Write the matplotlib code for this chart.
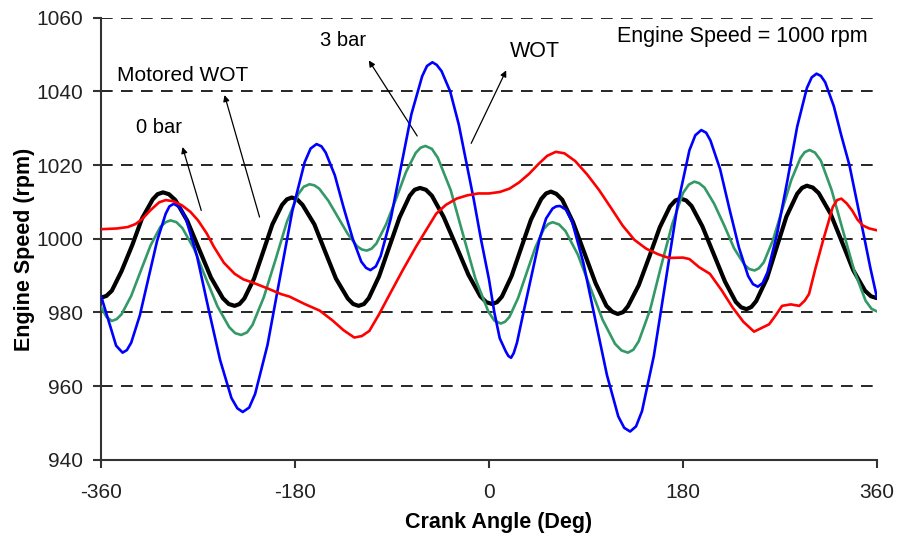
import matplotlib
matplotlib.use("Agg")
from matplotlib import pyplot as plt

plt.rcParams['font.family'] = ['Liberation Sans', 'DejaVu Sans']
plt.rcParams['axes.unicode_minus'] = False

# crank angle (deg) / engine speed (rpm) traces
motored_deg = [-360, -355, -350, -341, -331, -322, -312, -307.5, -302.5, -297, -291, -280, -269, -258,
               -247, -241.5, -236, -231.5, -227, -218, -209.5, -201, -192, -187.5, -183, -178,
               -173, -162, -152, -142, -131, -126, -121, -116, -111.5, -102, -92.5, -83,
               -73.5, -69, -64, -58.5, -53, -42, -30.5, -19, -8, -2.5, 3, 7.5,
               12, 21, 30, 39, 48.5, 53, 57.5, 62.5, 68, 78, 88.5, 99,
               109, 114.5, 119.5, 124.5, 129, 139, 149, 158.5, 168, 173, 178, 183,
               188, 198, 208.5, 219, 229, 234, 239, 243.5, 248, 258, 267, 276,
               286, 290.5, 295, 300.5, 306, 317, 327.5, 338, 349, 354.5, 360]
motored_rpm = [984.0, 984.5, 985.9, 991.2, 998.3, 1005.5, 1010.7, 1012.1, 1012.6, 1012.1, 1010.5, 1004.9, 997.2, 989.5,
               983.9, 982.3, 981.8, 982.3, 983.8, 989.2, 996.5, 1003.9, 1009.2, 1010.7, 1011.2, 1010.7,
               1009.2, 1003.9, 996.5, 989.2, 983.8, 982.3, 981.8, 982.3, 983.9, 989.8, 997.8, 1005.8,
               1011.7, 1013.3, 1013.8, 1013.3, 1011.7, 1005.9, 998.1, 990.2, 984.4, 982.8, 982.3, 982.8,
               984.3, 989.9, 997.6, 1005.2, 1010.8, 1012.3, 1012.8, 1012.2, 1010.6, 1004.5, 996.2, 987.9,
               981.8, 980.2, 979.6, 980.1, 981.7, 987.4, 995.3, 1003.1, 1008.8, 1010.4, 1010.9, 1010.4,
               1008.9, 1003.4, 995.9, 988.4, 982.9, 981.4, 980.9, 981.5, 983.1, 989.3, 997.7, 1006.0,
               1012.2, 1013.8, 1014.4, 1013.9, 1012.4, 1006.8, 999.2, 991.5, 985.9, 984.4, 983.9]

bar3_deg = [-360, -355, -350, -345.5, -341, -332, -323, -314, -305, -300, -295.5, -290, -284.5, -273.5,
            -263, -252, -241, -235.5, -230, -224.5, -219.5, -209, -198, -187.5, -177, -172,
            -166.5, -162, -157.5, -149, -140, -131, -122.5, -118, -113.5, -109, -104.5, -95.5,
            -86, -77, -68, -63.5, -59, -53, -47.5, -35.5, -24, -12.5, -0.5, 5,
            11, 15, 19, 27, 35, 43, 51, 55, 59, 65, 71, 82.5,
            94, 105.5, 117, 123, 129, 134, 139, 149.5, 159.5, 170, 180, 185.5,
            190.5, 195, 200, 209, 218.5, 227.5, 237, 241.5, 246.5, 250.5, 255, 263.5,
            272, 280.5, 289, 293, 297.5, 302.5, 308, 318, 328.5, 339, 349.5, 355, 360]
bar3_rpm = [981.5, 978.8, 977.7, 978.2, 979.5, 984.5, 991.4, 998.2, 1003.2, 1004.5, 1005.0, 1004.5, 1002.9, 997.2,
            989.5, 981.7, 976.0, 974.4, 973.9, 974.6, 976.6, 984.1, 994.4, 1004.6, 1012.1, 1014.1,
            1014.8, 1014.5, 1013.6, 1010.3, 1005.8, 1001.3, 998.0, 997.1, 996.8, 997.3, 998.7, 1003.9,
            1011.0, 1018.1, 1023.3, 1024.7, 1025.2, 1024.4, 1022.0, 1013.2, 1001.1, 989.1, 980.2, 977.8,
            977.0, 977.5, 978.8, 983.9, 990.8, 997.6, 1002.7, 1004.0, 1004.5, 1003.9, 1002.1, 995.7,
            986.8, 978.0, 971.5, 969.7, 969.1, 969.9, 972.2, 980.7, 992.3, 1003.9, 1012.4, 1014.7,
            1015.5, 1015.1, 1013.9, 1009.5, 1003.5, 997.4, 993.0, 991.8, 991.4, 992.0, 993.6, 999.6,
            1007.8, 1015.9, 1021.9, 1023.5, 1024.1, 1023.4, 1021.2, 1013.2, 1002.2, 991.3, 983.2, 981.0, 980.3]

wot_deg = [-360, -352, -346, -340, -336, -332, -324, -316, -308, -300, -296.5, -292.5, -287, -281.5,
           -271, -260.5, -249.5, -239, -233.5, -228.5, -222.5, -217, -205.5, -194, -182.5, -171,
           -165.5, -160, -155.5, -151.5, -143, -135, -126.5, -118.5, -114, -110, -105, -100.5,
           -91, -81.5, -72, -62, -57.5, -52.5, -48.5, -44, -36, -28, -20.5, -14,
           -7.5, 0, 5, 10, 15.5, 18, 20.5, 23, 26, 32, 39.5, 47,
           53, 59, 62.5, 66, 71.5, 77, 87.5, 98.5, 109.5, 120, 125.5, 131,
           136.5, 142, 153, 164, 175, 186, 191.5, 197, 201.5, 205.5, 214.5, 223,
           232, 240.5, 245, 249.5, 254, 258.5, 267.5, 277, 286, 295, 299.5, 304,
           308, 312, 320, 327, 334.5, 341.5, 348.5, 354, 360]
wot_rpm = [984.5, 976.8, 971.0, 969.1, 969.8, 971.8, 979.2, 989.3, 999.4, 1006.8, 1008.8, 1009.5, 1008.5, 1005.7,
           995.4, 981.3, 967.1, 956.8, 954.0, 953.0, 954.2, 957.9, 971.2, 989.4, 1007.5, 1020.8,
           1024.5, 1025.7, 1025.1, 1023.4, 1017.2, 1008.6, 1000.1, 993.8, 992.1, 991.5, 992.5, 995.3,
           1005.6, 1019.7, 1033.8, 1044.1, 1046.9, 1047.9, 1047.2, 1045.5, 1040.0, 1031.0, 1020.0, 1010.5,
           1000.0, 989.0, 980.0, 973.0, 969.5, 968.2, 967.7, 969.0, 971.8, 980.0, 990.0, 1000.0,
           1005.5, 1008.2, 1008.8, 1008.9, 1007.9, 1004.8, 993.6, 978.3, 963.0, 951.8, 948.7, 947.7,
           949.1, 953.2, 968.2, 988.6, 1009.1, 1024.0, 1028.1, 1029.5, 1028.8, 1026.7, 1018.9, 1008.3,
           997.6, 989.9, 987.7, 987.0, 988.0, 990.9, 1001.5, 1015.9, 1030.4, 1040.9, 1043.8, 1044.8,
           1044.2, 1042.5, 1036.0, 1028.0, 1020.0, 1010.0, 1000.0, 992.0, 984.1]

bar0_deg = [-360, -345, -335, -328, -322, -314, -306, -300, -293, -285, -277, -270, -262, -255,
            -246, -236, -228, -220, -206, -193, -185, -171, -157, -145, -135, -125, -118, -111,
            -102, -92, -80, -68, -58, -49, -40, -30, -20, -10, 0, 10, 19, 28,
            37.5, 46, 54, 62, 70, 80, 91, 102, 113, 124, 135, 146, 157, 167,
            180, 186, 195, 205, 216, 226, 236, 246, 253, 260, 266, 272, 280, 288,
            293, 297, 303, 310, 315, 319, 323, 327, 332, 337, 342, 347, 353, 360]
bar0_rpm = [1002.6, 1002.8, 1003.2, 1004.0, 1005.3, 1007.8, 1009.9, 1010.5, 1010.2, 1009.1, 1007.3, 1005.0, 1001.5, 997.7,
            993.5, 990.5, 989.0, 988.2, 986.6, 985.0, 984.3, 982.3, 980.5, 977.8, 975.2, 973.2, 973.6, 975.0,
            979.5, 985.0, 991.5, 997.7, 1002.5, 1006.8, 1009.2, 1010.9, 1011.8, 1012.3, 1012.3, 1012.7, 1013.6, 1015.3,
            1017.7, 1020.3, 1022.5, 1023.6, 1023.2, 1021.1, 1017.5, 1013.3, 1008.5, 1003.6, 999.7, 997.3, 995.8, 994.8,
            994.9, 994.5, 992.3, 990.5, 986.0, 981.4, 977.5, 974.8, 975.8, 976.8, 979.2, 981.8, 982.2, 981.8,
            983.2, 985.0, 992.0, 999.5, 1004.5, 1008.6, 1010.5, 1010.9, 1009.6, 1007.7, 1005.2, 1003.6, 1002.8, 1002.3]

x_ticks = [-360, -180, 0, 180, 360]
y_ticks = [940, 960, 980, 1000, 1020, 1040, 1060]

fig = plt.figure(figsize=(8.98, 5.36), dpi=100)
ax = fig.add_axes([0.1125, 0.142, 0.864, 0.825])

line_kw = dict(solid_joinstyle='round', solid_capstyle='round')
ax.plot(motored_deg, motored_rpm, color='black', lw=3.0, zorder=3, **line_kw)
ax.plot(bar3_deg, bar3_rpm, color='#339966', lw=1.9, zorder=4, **line_kw)
ax.plot(wot_deg, wot_rpm, color='#0000ff', lw=1.9, zorder=5, **line_kw)
ax.plot(bar0_deg, bar0_rpm, color='#ff0000', lw=1.9, zorder=6, **line_kw)

ax.set_xlim(-360, 360)
ax.set_ylim(940, 1060)
ax.set_xticks(x_ticks)
ax.set_yticks(y_ticks)

ax.yaxis.grid(True, color='black', lw=1.2, linestyle=(0, (7, 5)))
ax.set_axisbelow(True)
for s in ['top', 'right']:
    ax.spines[s].set_visible(False)
for s in ['left', 'bottom']:
    ax.spines[s].set_color('#333333')
    ax.spines[s].set_linewidth(1.5)
ax.tick_params(axis='both', direction='out', length=6, width=1.5, color='#333333',
               labelsize=15, labelcolor='#222222')
ax.tick_params(axis='x', pad=11)
ax.tick_params(axis='y', pad=7)

ax.set_xlabel('Crank Angle (Deg)', fontsize=15.5, fontweight='bold')
ax.set_ylabel('Engine Speed (rpm)', fontsize=15.5, fontweight='bold')
ax.xaxis.set_label_coords(0.513, -0.117)
ax.yaxis.set_label_coords(-0.085, 0.475)

arrow = dict(arrowstyle='-|>', color='black', lw=0.9, mutation_scale=9, shrinkA=0, shrinkB=0)
ax.annotate('', xy=(-284.4, 1024.9), xytext=(-267.0, 1007.7), arrowprops=arrow)
ax.annotate('', xy=(-245.4, 1039.0), xytext=(-212.9, 1005.9), arrowprops=arrow)
ax.annotate('', xy=(-111.5, 1048.4), xytext=(-66.6, 1027.9), arrowprops=arrow)
ax.annotate('', xy=(16.0, 1045.7), xytext=(-16.5, 1025.9), arrowprops=arrow)

ax.text(-306.6, 1030.1, '0 bar', fontsize=14.5, ha='center', va='center')
ax.text(-284.4, 1044.2, 'Motored WOT', fontsize=15, ha='center', va='center')
ax.text(-135.0, 1053.8, '3 bar', fontsize=14.5, ha='center', va='center')
ax.text(43.0, 1050.8, 'WOT', fontsize=15.5, ha='center', va='center')
ax.text(235.2, 1054.9, 'Engine Speed = 1000 rpm', fontsize=15.5, ha='center', va='center')

fig.savefig('out.png', dpi=100)
